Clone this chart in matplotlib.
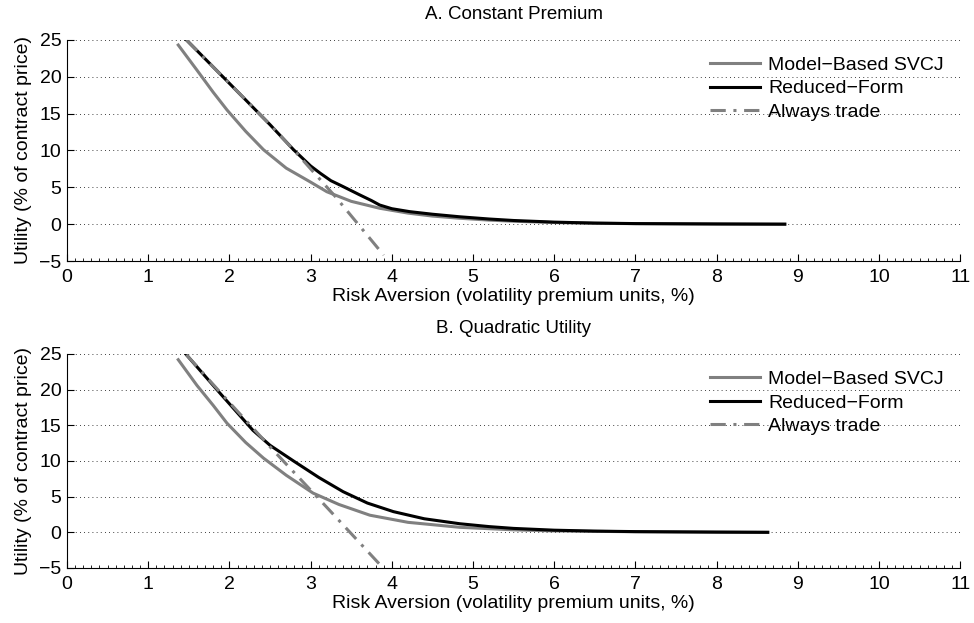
import matplotlib
matplotlib.use("Agg")
import matplotlib.pyplot as plt
from matplotlib.ticker import MultipleLocator

plt.rcParams['font.family'] = ['Liberation Sans', 'DejaVu Sans']

# panel A: constant premium
a_model_x = [1.37, 1.6, 1.8, 1.97, 2.2, 2.42, 2.7, 2.99, 3.2, 3.5, 3.85, 4.2, 4.5, 4.84,
             5.2, 5.5, 6.0, 6.5, 7.0, 8.0, 8.84]
a_model_y = [24.3, 20.9, 17.9, 15.5, 12.6, 10.1, 7.6, 5.77, 4.4, 3.1, 2.16, 1.5, 1.1, 0.8,
             0.55, 0.4, 0.22, 0.12, 0.07, 0.02, 0.0]
a_red_x = [1.47, 2.0, 2.5, 2.79, 3.0, 3.12, 3.25, 3.4, 3.6, 3.75, 3.85, 4.0, 4.22, 4.5,
           4.84, 5.2, 5.5, 6.0, 6.5, 7.0, 8.0, 8.84]
a_red_y = [25.0, 19.1, 13.5, 10.1, 7.9, 6.9, 5.9, 5.1, 4.0, 3.2, 2.6, 2.1, 1.7, 1.35,
           1.0, 0.7, 0.5, 0.28, 0.15, 0.08, 0.03, 0.0]
a_trade_x = [1.47, 2.0, 2.5, 2.79, 3.3, 3.9]
a_trade_y = [25.0, 19.1, 13.5, 10.1, 3.8, -4.2]

# panel B: quadratic utility
b_model_x = [1.37, 1.6, 1.8, 1.97, 2.2, 2.42, 2.7, 3.03, 3.35, 3.73, 4.2, 4.84, 5.5,
             6.0, 7.0, 8.0, 8.63]
b_model_y = [24.2, 20.6, 17.8, 15.3, 12.6, 10.4, 8.0, 5.5, 3.9, 2.4, 1.4, 0.7, 0.35,
             0.2, 0.08, 0.03, 0.0]
b_red_x = [1.47, 1.9, 2.29, 2.5, 2.79, 3.1, 3.4, 3.7, 4.02, 4.4, 4.84, 5.2, 5.5, 6.0,
           6.5, 7.0, 8.0, 8.63]
b_red_y = [24.9, 19.3, 14.3, 12.2, 10.0, 7.7, 5.7, 4.1, 2.9, 1.9, 1.2, 0.8, 0.55, 0.3,
           0.17, 0.1, 0.03, 0.0]
b_trade_x = [1.47, 2.0, 2.54, 3.2, 3.86]
b_trade_y = [24.9, 18.2, 11.5, 3.5, -4.6]

titles = ['A. Constant Premium', 'B. Quadratic Utility']
panels = [
    (a_model_x, a_model_y, a_red_x, a_red_y, a_trade_x, a_trade_y),
    (b_model_x, b_model_y, b_red_x, b_red_y, b_trade_x, b_trade_y),
]
boxes = [[0.0688, 0.581, 0.917, 0.355], [0.0688, 0.0883, 0.917, 0.3435]]

fig = plt.figure(figsize=(9.74, 6.23), dpi=100)
gray = '#808080'

for box, title, (mx, my, rx, ry, tx, ty) in zip(boxes, titles, panels):
    ax = fig.add_axes(box)
    ax.plot(mx, my, color=gray, lw=2.2, label='Model\u2212Based SVCJ')
    ax.plot(rx, ry, color='black', lw=2.2, label='Reduced\u2212Form')
    ax.plot(tx, ty, color=gray, lw=2.2, ls=(0, (5, 2.5, 1, 2.5)), label='Always trade')

    ax.set_xlim(0, 11)
    ax.set_ylim(-5, 25)
    ax.xaxis.set_major_locator(MultipleLocator(1))
    ax.xaxis.set_minor_locator(MultipleLocator(0.1))
    ax.grid(axis='y', ls=(0, (1, 4)), color='black', lw=0.6)
    ax.spines['top'].set_visible(False)
    ax.spines['right'].set_visible(False)
    ax.tick_params(labelsize=14, direction='in', length=5)
    ax.tick_params(axis='x', pad=6)
    ax.tick_params(axis='y', pad=4)
    ax.tick_params(which='minor', direction='in', length=2)
    ax.set_yticks([-5, 0, 5, 10, 15, 20, 25])
    ax.set_yticklabels(['\u22125', '0', '5', '10', '15', '20', '25'])
    ax.set_title(title, fontsize=13.5, pad=15)
    ax.set_xlabel('Risk Aversion (volatility premium units, %)', fontsize=14, labelpad=1)
    ax.set_ylabel('Utility (% of contract price)', fontsize=14, labelpad=5)
    ax.legend(loc='upper right', frameon=False, fontsize=14, handlelength=2.6,
              handletextpad=0.4, labelspacing=0.3, borderaxespad=0.45)

fig.savefig('out.png', dpi=100)
